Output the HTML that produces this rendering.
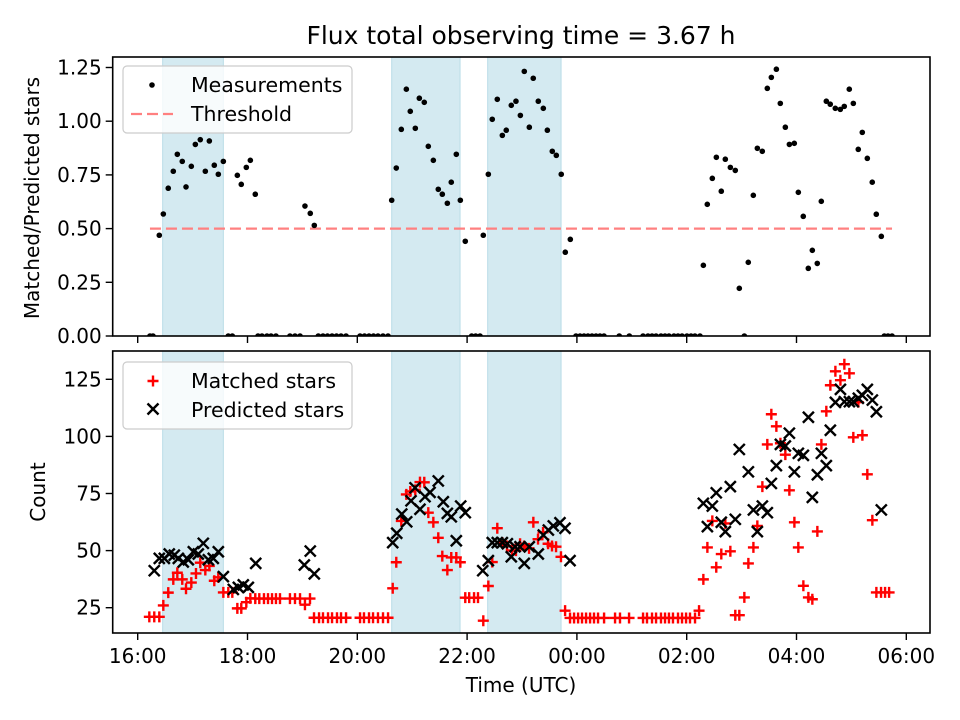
<!DOCTYPE html>
<html><head><meta charset="utf-8">
<style>
html,body{margin:0;padding:0;background:#fff;}
svg{display:block;font-family:"DejaVu Sans","Liberation Sans",sans-serif;}
</style></head>
<body>
<svg id="fig" width="960" height="720" viewBox="0 0 960 720" xmlns="http://www.w3.org/2000/svg">
<rect x="0" y="0" width="960" height="720" fill="#fff"/>
<text x="521" y="44" font-size="25" text-anchor="middle" fill="#000">Flux total observing time = 3.67 h</text>
<g id="top"></g>
<g id="bot"></g>
<text transform="translate(39,198) rotate(-90)" font-size="20" text-anchor="middle">Matched/Predicted stars</text>
<text transform="translate(45,492) rotate(-90)" font-size="20" text-anchor="middle">Count</text>
<text x="521" y="692" font-size="20" text-anchor="middle">Time (UTC)</text>
</svg>
<script>
// time in minutes since 16:00 UTC
const spanStart=[27.3,277.6,382.5];
const spanEnd=[93.6,352.3,462.7];
const xTickVals=[0,120,240,360,480,600,720,840];
const xTickLabels=["16:00","18:00","20:00","22:00","00:00","02:00","04:00","06:00"];
const yTopTicks=[0,0.25,0.5,0.75,1.0,1.25];
const yTopLabels=["0.00","0.25","0.50","0.75","1.00","1.25"];
const yBotTicks=[25,50,75,100,125];
const yBotLabels=["25","50","75","100","125"];
const threshold=[0.5];
const thresholdRange=[13.4,824.4];
const ratioTime=[13.4,16.7,23.6,28,33.4,38.9,43.3,48.7,52.8,58.6,63,68.4,73.9,78.3,83.7,88.1,93.6,99,103.4,108.9,113.2,118.7,123.1,128.5,131.5,135.8,141.3,145.7,151.1,166.4,171.9,177.4,182.8,188.6,193,197.4,202.5,207.4,212.4,217.3,222.2,227.7,243,247.9,252.8,257.7,262.6,268.1,273.6,277.6,282.6,288.1,293.6,297.9,303.4,307.8,313.2,317.6,323.1,328.5,332.9,338.4,342.7,348.2,352.6,358,365,369.4,374.1,377.7,383.2,387.5,393,398.5,402.8,408.3,413.4,418.2,422.5,428,432.3,437.8,443.3,447.7,453.1,457.5,462.9,467.3,472.8,479,483.4,487.8,492.1,496.5,500.9,505.2,509.6,526.3,537.3,552.3,557.7,562.1,566.5,571.9,576.3,580.6,586.1,590.5,594.9,600.3,604.7,609,614.5,618.2,622.5,628,632.4,637.8,642.2,647.7,653.1,657.5,663,667.3,672.8,677.2,682.6,688.1,692.5,698,702.3,707.8,712.2,717.6,722,727.4,732.9,737.3,742.7,747.1,752.6,756.9,762.4,767.9,772.2,777.7,782.1,787.5,791.9,797.4,802.8,807.2,812.7,816,820,824.4];
const ratioVals=[0,0,.469,.568,.688,.767,.846,.813,.694,.79,.892,.914,.767,.908,.795,.753,.813,0,0,.748,.706,.785,.818,.66,0,0,0,0,0,0,0,0,.605,.571,.515,0,0,0,0,0,0,0,0,0,0,0,0,0,0,.632,.782,.962,1.149,1.046,.967,1.107,1.088,.883,.818,.683,.66,.618,.716,.846,.632,.441,0,0,0,.469,.753,1.009,1.102,.934,.958,1.074,1.093,1.027,1.232,.972,1.2,1.093,1.06,.958,.86,.841,.753,.39,.45,0,0,0,0,0,0,0,0,0,0,0,0,0,0,0,0,0,0,0,0,0,0,0,0,.329,.613,.734,.832,.674,.823,.785,.771,.222,0,.343,.655,.874,.86,1.153,1.204,1.242,1.083,.972,.892,.897,.669,.557,.315,.399,.338,.627,1.093,1.079,1.06,1.055,1.069,1.149,1.083,.869,.948,.827,.716,.567,.464,0,0,0];
const matchedTime=[12.7,18.1,23.6,28,33.4,38.9,43.3,48.7,52.8,58.6,63.7,68.4,73.9,78.3,83.7,88.1,93.6,99,103.4,108.9,113.2,118.7,123.1,128.5,132.9,138,142.4,146.8,151.1,155.5,166.4,171.9,177.4,182.8,188.3,192.7,198.2,202.5,208,212.4,217.8,222.2,227.7,243,247.3,252.8,257.2,262.6,268.1,273.6,278.7,282.6,288.1,293.6,297.9,303.4,308.5,313.2,317.6,323.1,328.5,332.9,338.4,342.7,348.2,352.6,358,362.3,367.6,371.9,377.7,383.2,387.5,393,398.5,403.6,409.1,413.4,417.9,422.2,427.7,432.4,437.5,443,448.5,452.8,457.2,462.6,467.1,472.5,476.9,481.3,485.6,490,494.4,498.7,503.1,509.7,521.7,527.1,537,552.3,556.6,562.1,566.5,571.9,576.3,580.6,585,590.5,594.9,599.3,603.6,609.1,613.5,618.2,622.6,628,632.3,637.8,642.2,647.7,653.1,657.5,663,667.4,672.9,677.2,682.7,688.1,692.5,698,702.4,707.8,712.2,717.7,722,727.5,733,737.3,742.8,747.2,752.6,757,762.5,768,772.3,777.8,782.1,787.6,792,797.4,802.9,807.3,812.4,816.8,821.2,825.5];
const matchedVals=[21,21,21,26,31.6,37.4,40.3,37.4,33.3,36,40,44.7,41.5,43.3,36.8,38.3,31.7,31.7,31.7,24.7,24.7,27.4,29.1,29,29,29,29,29,29,29,29,29,29,26.3,29,20.6,20.6,20.6,20.6,20.6,20.6,20.6,20.6,20.6,20.6,20.6,20.6,20.6,20.6,20.6,33.5,44.9,63,74.6,75.9,76.6,80,79.9,66.6,62.4,55.6,47.6,41.5,47,47,44.9,29.4,29.4,29.4,29.4,19.3,34.5,45,59.8,53.5,52,50,50,53,52,51,62.4,55,58,53,52,51.7,47.3,23.7,20.5,20.5,20.5,20.5,20.5,20.5,20.5,20.5,20.5,20.5,20.5,20.5,20.5,20.5,20.5,20.5,20.5,20.5,20.5,20.5,20.5,20.5,20.5,20.5,20.5,23.7,37.4,51.4,63,42.7,48.5,61.9,49.7,21.7,21.7,29.5,44.4,51.4,60.8,78,96.5,109.7,104.4,97,92,76.4,62.4,51.4,34.6,29.5,28.7,58.4,96.5,111,122.4,128.5,124.6,131.6,127.6,99.6,115,100.5,83.4,63.3,31.7,31.7,31.7,31.7];
const predTime=[18.1,23.6,29.1,34.5,40,44.4,49.8,55.3,60.8,66.2,71.7,77.2,82.6,88.1,93.6,104.5,110,115.4,120.9,129,182.1,188.6,193,278.7,283.1,288.6,294,298.7,303.1,308.5,314,319.5,328.5,334,338.4,342.7,348.2,353,358,377.1,383.2,387.5,393,398.5,404,408.3,412.4,417.8,422.5,428,437.8,443.3,448.8,454.2,461.5,467,472.5,618.2,622.6,628,632.3,637.8,642.2,647.7,653.1,657.5,667.4,672.9,677.2,682.7,688.1,692.5,698,702.4,707.8,712.2,717.7,722,727.5,733,737.3,742.8,747.2,752.6,757,762.5,768,772.3,777.8,782.1,787.6,792,797.4,802.9,807.3,812.7];
const predVals=[41.2,46.6,46.6,48.5,48,46.6,45,46,49.5,48.5,53.2,46,46.6,49.5,38.6,33,33.9,35,33.9,44.4,43.7,49.8,39.8,53.5,57.6,66,62.6,71.8,77.5,68.1,73.6,75.5,80.5,71.4,66.3,64.8,54.3,69.5,66.6,41.2,45.6,53.5,53.5,53.5,53,47.3,51.7,51.7,44.4,51.7,48.5,56.8,59,60.8,62.2,59.8,45.6,70.7,60.5,69.5,75.3,62.4,58.3,78,63.7,94.3,84.5,67.8,58.3,69.5,66.6,79.4,87.2,96.5,95.8,101.4,84.5,92.6,91.7,108.4,73.3,83.2,92.6,87.2,102.7,114.9,120.6,115.2,115.2,115.2,116.7,118,120.6,115.9,110.8,67.8];

const NS="http://www.w3.org/2000/svg";
const X0=112.7,X1=930;
const xs=m=>137.7+m*54.9/60;
const TOP={y0:57,y1:336};
const BOT={y0:351,y1:633};
const yTop=v=>336-v*214.8;
const yBot=v=>607.7-(v-25)*57.1/25;
function el(tag,attrs,parent){const e=document.createElementNS(NS,tag);for(const k in attrs)e.setAttribute(k,attrs[k]);parent.appendChild(e);return e;}

function panel(g,P,ys,yt,yl,showX,nm){
  const clipId='clip-'+nm;
  const cp=el('clipPath',{id:clipId},g);
  el('rect',{x:X0,y:P.y0,width:X1-X0,height:P.y1-P.y0},cp);
  const inner=el('g',{'clip-path':'url(#'+clipId+')'},g);
  for(let i=0;i<spanStart.length;i++){
    const r=el('rect',{x:xs(spanStart[i]),y:P.y0,width:xs(spanEnd[i])-xs(spanStart[i]),height:P.y1-P.y0,fill:'#d4eaf1',stroke:'#b9dce7','stroke-width':1},inner);
    
    
  }
  el('rect',{x:X0,y:P.y0,width:X1-X0,height:P.y1-P.y0,fill:'none',stroke:'#000','stroke-width':1.6},g);
  xTickVals.forEach((t,i)=>{
    const x=xs(t);
    el('line',{x1:x,x2:x,y1:P.y1,y2:P.y1+7,stroke:'#000','stroke-width':1.4},g);
    if(showX){
      const tx=el('text',{x:x,y:663,'font-size':20,'text-anchor':'middle'},g);
      tx.textContent=xTickLabels[i];
      
      
    }
  });
  yt.forEach((v,i)=>{
    const y=ys(v);
    el('line',{x1:X0-7,x2:X0,y1:y,y2:y,stroke:'#000','stroke-width':1.4},g);
    const tx=el('text',{x:X0-11,y:y+7,'font-size':20,'text-anchor':'end'},g);
    tx.textContent=yl[i];
    
    
  });
  return inner;
}
function plus(g,x,y,c){el('path',{d:`M${x-5.5},${y}H${x+5.5}M${x},${y-5.5}V${y+5.5}`,stroke:c,'stroke-width':2.4,fill:'none'},g);}
function cross(g,x,y,c){el('path',{d:`M${x-5.5},${y-5.5}L${x+5.5},${y+5.5}M${x-5.5},${y+5.5}L${x+5.5},${y-5.5}`,stroke:c,'stroke-width':2.4,fill:'none'},g);}

const gt=document.getElementById('top');
const it=panel(gt,TOP,yTop,yTopTicks,yTopLabels,false,'top');
const th=el('line',{x1:xs(thresholdRange[0]),x2:xs(thresholdRange[1]),y1:yTop(threshold[0]),y2:yTop(threshold[0]),stroke:'#ff8080','stroke-width':2.3,'stroke-dasharray':'11,5'},it);


const dots=el('g',{},it);


ratioTime.forEach((t,i)=>{el('circle',{cx:xs(t),cy:yTop(ratioVals[i]),r:2.8,fill:'#000'},dots);});

const gb=document.getElementById('bot');
const ib=panel(gb,BOT,yBot,yBotTicks,yBotLabels,true,'bot');
const mg=el('g',{},ib);


matchedTime.forEach((t,i)=>plus(mg,xs(t),yBot(matchedVals[i]),'#ff0000'));
const pg=el('g',{},ib);


predTime.forEach((t,i)=>cross(pg,xs(t),yBot(predVals[i]),'#000'));

function legendBox(g,y,nm){
  const r=el('rect',{x:123,y:y,width:229,height:67,rx:4,fill:'#fff','fill-opacity':0.8,stroke:'#cccccc','stroke-width':1.2},g);
  
  
}
legendBox(gt,66,'legend-ratio');
el('circle',{cx:152,cy:85,r:2.8,fill:'#000'},gt);
let t1=el('text',{x:191,y:92,'font-size':20.5},gt);t1.textContent='Measurements';


el('line',{x1:131,x2:173,y1:114,y2:114,stroke:'#ff8080','stroke-width':2.3,'stroke-dasharray':'11,5'},gt);
let t2=el('text',{x:191,y:121,'font-size':20.5},gt);t2.textContent='Threshold';


legendBox(gb,362,'legend-count');
plus(gb,153,381,'#ff0000');
let t3=el('text',{x:191,y:388,'font-size':20.5},gb);t3.textContent='Matched stars';


cross(gb,153,409,'#000');
let t4=el('text',{x:191,y:417,'font-size':20.5},gb);t4.textContent='Predicted stars';


</script>
</body></html>
